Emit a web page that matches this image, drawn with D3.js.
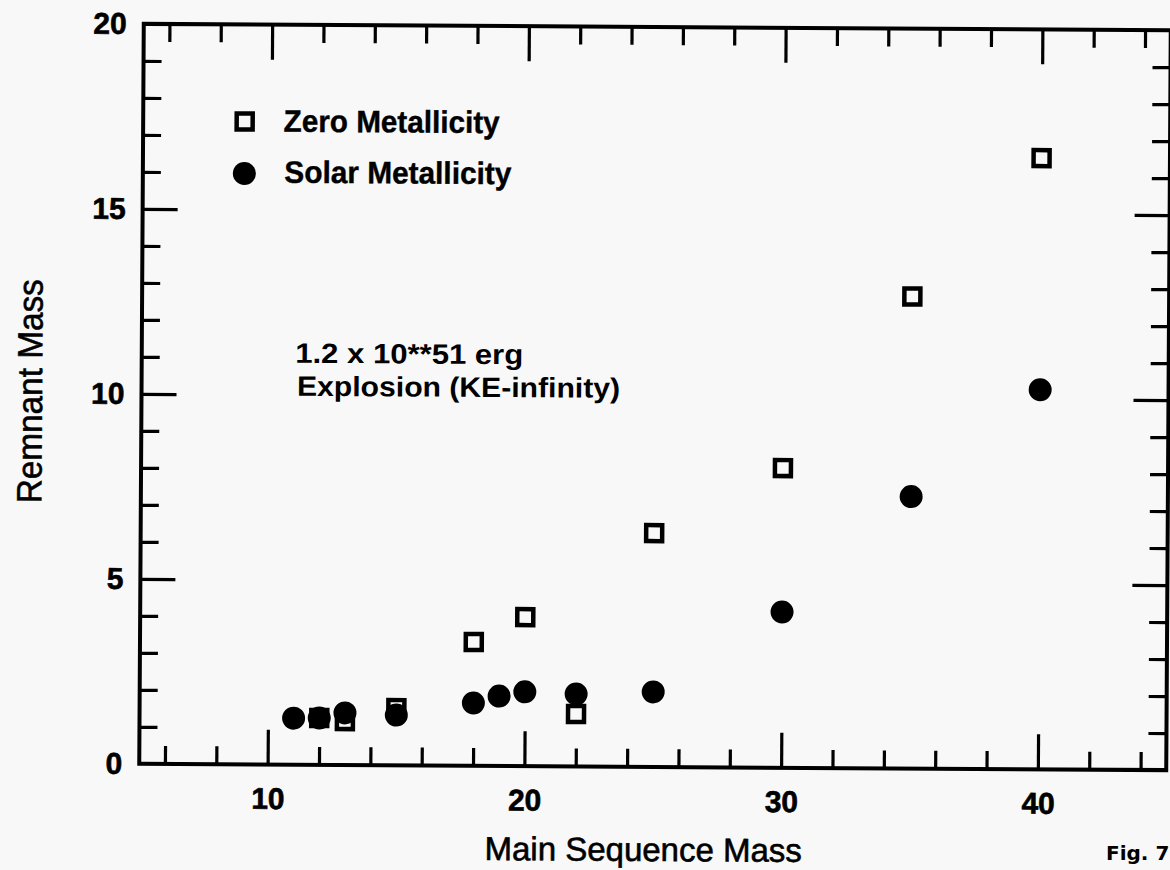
<!DOCTYPE html>
<html>
<head>
<meta charset="utf-8">
<script src="https://cdn.jsdelivr.net/npm/d3@7"></script>
<style>
  html, body { margin: 0; padding: 0; background: #f8f8f8; }
  svg { display: block; }
  text { font-family: "Liberation Sans", Arial, Helvetica, sans-serif; fill: #000; }
</style>
</head>
<body>
<svg id="chart" width="1170" height="870"></svg>
<script>
// ---- data ----
const zeroMass      = [12, 13, 15, 18, 20, 22, 25, 30, 35, 40];
const zeroRemnant   = [1.27, 1.19, 1.55, 3.35, 4.03, 1.42, 6.32, 8.10, 12.76, 16.52];
const solarMass     = [11, 12, 13, 15, 18, 19, 20, 22, 25, 30, 35, 40];
const solarRemnant  = [1.26, 1.27, 1.41, 1.36, 1.70, 1.89, 2.01, 1.96, 2.03, 4.21, 7.35, 10.26];

const xMajorTicks = [10, 20, 30, 40];
const xMinorTicks = [6, 8, 12, 14, 16, 18, 22, 24, 26, 28, 32, 34, 36, 38, 42, 44];
const yLabelTicks = [0, 5, 10, 15, 20];
const yMajorTicks = [5, 10, 15];
const yMinorTicks = [1, 2, 3, 4, 6, 7, 8, 9, 11, 12, 13, 14, 16, 17, 18, 19];

const seriesNames = ["Zero Metallicity", "Solar Metallicity"];
const xTitle = "Main Sequence Mass";
const yTitle = "Remnant Mass";
const noteLines = ["1.2 x 10**51 erg", "Explosion (KE-infinity)"];
const figLabel = "Fig. 7";

// ---- layout ----
const L = 141.5, R = 1168.5, T = 27, B = 767;
const svg = d3.select("#chart");
svg.append("rect").attr("width", 1170).attr("height", 870).attr("fill", "#f8f8f8");

const x = d3.scaleLinear().domain([5, 45]).range([L, R]);
const y = d3.scaleLinear().domain([0, 20]).range([B, T]);

// whole scanned figure is slightly rotated
const g = svg.append("g").attr("transform", "rotate(0.35 655 397)");

const MINOR = 18, MAJOR = 35;
function styleAxis(sel) {
  sel.select(".domain").remove();
  sel.selectAll(".tick line").attr("stroke", "#000").attr("stroke-width", 3.2);
  sel.selectAll(".tick text")
     .attr("fill", "#000")
     .attr("stroke", "#000").attr("stroke-width", 0.6)
     .style("font-family", '"Liberation Sans", Arial, sans-serif')
     .style("font-weight", "bold")
     .style("font-size", "30px");
}

// bottom
g.append("g").attr("transform", `translate(0,${B})`)
  .call(d3.axisBottom(x).tickValues(xMinorTicks).tickSize(-MINOR).tickFormat(""))
  .call(styleAxis);
g.append("g").attr("transform", `translate(0,${B})`)
  .call(d3.axisBottom(x).tickValues(xMajorTicks).tickSize(-MAJOR).tickPadding(23).tickFormat(d3.format("d")))
  .call(styleAxis);
// top
g.append("g").attr("transform", `translate(0,${T})`)
  .call(d3.axisTop(x).tickValues(xMinorTicks).tickSize(-MINOR).tickFormat(""))
  .call(styleAxis);
g.append("g").attr("transform", `translate(0,${T})`)
  .call(d3.axisTop(x).tickValues(xMajorTicks).tickSize(-MAJOR).tickFormat(""))
  .call(styleAxis);
// left
g.append("g").attr("transform", `translate(${L},0)`)
  .call(d3.axisLeft(y).tickValues(yMinorTicks).tickSize(-MINOR).tickFormat(""))
  .call(styleAxis);
g.append("g").attr("transform", `translate(${L},0)`)
  .call(d3.axisLeft(y).tickValues(yMajorTicks).tickSize(-MAJOR).tickFormat(""))
  .call(styleAxis);
g.append("g").attr("transform", `translate(${L},0)`)
  .call(d3.axisLeft(y).tickValues(yLabelTicks).tickSize(0).tickPadding(17).tickFormat(d3.format("d")))
  .call(styleAxis);
// right
g.append("g").attr("transform", `translate(${R},0)`)
  .call(d3.axisRight(y).tickValues(yMinorTicks).tickSize(-MINOR).tickFormat(""))
  .call(styleAxis);
g.append("g").attr("transform", `translate(${R},0)`)
  .call(d3.axisRight(y).tickValues(yMajorTicks).tickSize(-MAJOR).tickFormat(""))
  .call(styleAxis);

// frame
g.append("rect").attr("x", L).attr("y", T).attr("width", R - L).attr("height", B - T)
  .attr("fill", "none").attr("stroke", "#000").attr("stroke-width", 4);

// points: squares (zero metallicity) under circles (solar)
const SQ = 16;
g.append("g").selectAll("rect")
  .data(d3.zip(zeroMass, zeroRemnant))
  .join("rect")
  .attr("x", d => x(d[0]) - SQ / 2).attr("y", d => y(d[1]) - SQ / 2)
  .attr("width", SQ).attr("height", SQ)
  .attr("fill", "#f8f8f8").attr("stroke", "#000").attr("stroke-width", 4.5);

g.append("g").selectAll("circle")
  .data(d3.zip(solarMass, solarRemnant))
  .join("circle")
  .attr("cx", d => x(d[0])).attr("cy", d => y(d[1])).attr("r", 11.5)
  .attr("fill", "#000");

// legend
g.append("rect").attr("x", 243 - SQ / 2).attr("y", 124 - SQ / 2).attr("width", SQ).attr("height", SQ)
  .attr("fill", "#f8f8f8").attr("stroke", "#000").attr("stroke-width", 4.5);
g.append("circle").attr("cx", 243).attr("cy", 176).attr("r", 11.5).attr("fill", "#000");
g.append("text").attr("x", 282).attr("y", 134).text(seriesNames[0])
  .style("font-size", "31px").style("font-weight", "bold")
  .attr("stroke", "#000").attr("stroke-width", 0.4)
  .attr("textLength", 216).attr("lengthAdjust", "spacingAndGlyphs");
g.append("text").attr("x", 283).attr("y", 185).text(seriesNames[1])
  .style("font-size", "31px").style("font-weight", "bold")
  .attr("stroke", "#000").attr("stroke-width", 0.4)
  .attr("textLength", 227).attr("lengthAdjust", "spacingAndGlyphs");

// annotation
g.append("text").attr("x", 295).attr("y", 365).text(noteLines[0])
  .style("font-size", "28px").style("font-weight", "bold")
  .attr("textLength", 228).attr("lengthAdjust", "spacingAndGlyphs");
g.append("text").attr("x", 297).attr("y", 398).text(noteLines[1])
  .style("font-size", "28px").style("font-weight", "bold")
  .attr("textLength", 323).attr("lengthAdjust", "spacingAndGlyphs");

// axis titles
g.append("text").attr("x", 646).attr("y", 861).attr("text-anchor", "middle").text(xTitle)
  .style("font-size", "33px").attr("stroke", "#000").attr("stroke-width", 0.6);
g.append("text").attr("transform", "translate(42,395) rotate(-90)").attr("text-anchor", "middle")
  .text(yTitle).style("font-size", "35px").attr("stroke", "#000").attr("stroke-width", 0.6)
  .attr("textLength", 224).attr("lengthAdjust", "spacingAndGlyphs");

// figure label (not rotated)
svg.append("text").attr("x", 1106).attr("y", 860).text(figLabel)
  .style("font-family", '"DejaVu Sans", sans-serif').style("font-weight", "bold").style("font-size", "20px");
</script>
</body>
</html>
